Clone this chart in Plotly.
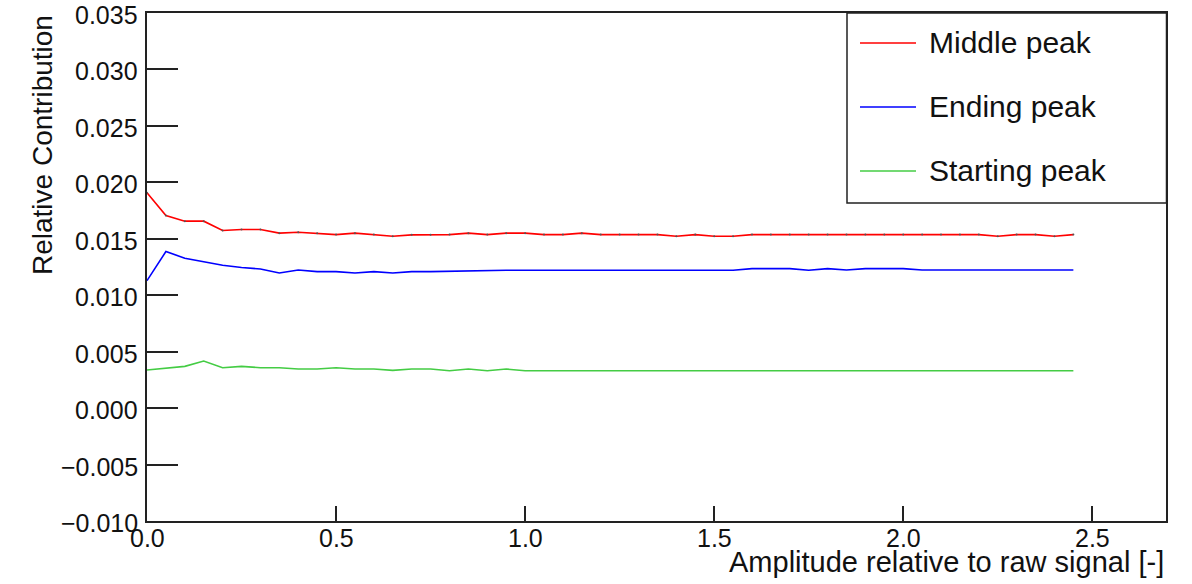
import plotly.graph_objects as go

# Amplitude scale factors applied to the raw signal
amplitude = [0.00, 0.05, 0.10, 0.15, 0.20, 0.25, 0.30, 0.35, 0.40, 0.45,
             0.50, 0.55, 0.60, 0.65, 0.70, 0.75, 0.80, 0.85, 0.90, 0.95,
             1.00, 1.05, 1.10, 1.15, 1.20, 1.25, 1.30, 1.35, 1.40, 1.45,
             1.50, 1.55, 1.60, 1.65, 1.70, 1.75, 1.80, 1.85, 1.90, 1.95,
             2.00, 2.05, 2.10, 2.15, 2.20, 2.25, 2.30, 2.35, 2.40, 2.45]

middle_peak = [0.01907, 0.01706, 0.01656, 0.01656, 0.01573, 0.01582, 0.01582, 0.01550, 0.01558, 0.01550,
               0.01537, 0.01550, 0.01537, 0.01523, 0.01535, 0.01535, 0.01537, 0.01550, 0.01537, 0.01550,
               0.01550, 0.01537, 0.01537, 0.01550, 0.01537, 0.01537, 0.01537, 0.01537, 0.01523, 0.01537,
               0.01523, 0.01523, 0.01537, 0.01537, 0.01537, 0.01537, 0.01537, 0.01537, 0.01537, 0.01537,
               0.01537, 0.01537, 0.01537, 0.01537, 0.01537, 0.01523, 0.01537, 0.01537, 0.01523, 0.01537]

ending_peak = [0.01129, 0.01387, 0.01328, 0.01298, 0.01266, 0.01245, 0.01233, 0.01197, 0.01224, 0.01209,
               0.01209, 0.01197, 0.01209, 0.01197, 0.01209, 0.01209, 0.01212, 0.01221, 0.01221, 0.01221,
               0.01221, 0.01221, 0.01221, 0.01221, 0.01221, 0.01221, 0.01221, 0.01221, 0.01221, 0.01221,
               0.01221, 0.01221, 0.01236, 0.01236, 0.01236, 0.01221, 0.01236, 0.01224, 0.01236, 0.01236,
               0.01236, 0.01224, 0.01224, 0.01224, 0.01224, 0.01224, 0.01224, 0.01224, 0.01224, 0.01224]

starting_peak = [0.00337, 0.00355, 0.00370, 0.00417, 0.00358, 0.00370, 0.00358, 0.00358, 0.00346, 0.00346,
                 0.00358, 0.00346, 0.00346, 0.00334, 0.00346, 0.00346, 0.00331, 0.00346, 0.00331, 0.00346,
                 0.00331, 0.00331, 0.00331, 0.00331, 0.00331, 0.00331, 0.00331, 0.00331, 0.00331, 0.00331,
                 0.00331, 0.00331, 0.00331, 0.00331, 0.00331, 0.00331, 0.00331, 0.00331, 0.00331, 0.00331,
                 0.00331, 0.00331, 0.00331, 0.00331, 0.00331, 0.00331, 0.00331, 0.00331, 0.00331, 0.00331]

series_names = ["Middle peak", "Ending peak", "Starting peak"]
series_colors = ["#ff0000", "#0000ff", "#44cc44"]

x_ticks = [0.0, 0.5, 1.0, 1.5, 2.0, 2.5]
x_tick_text = ["0.0", "0.5", "1.0", "1.5", "2.0", "2.5"]
y_ticks = [-0.010, -0.005, 0.000, 0.005, 0.010, 0.015, 0.020, 0.025, 0.030, 0.035]
y_tick_text = ["\u22120.010", "\u22120.005", "0.000", "0.005", "0.010",
               "0.015", "0.020", "0.025", "0.030", "0.035"]

x_title = "Amplitude relative to raw signal [-]"
y_title = "Relative Contribution"

# Canvas and plot-frame geometry (pixels)
W, H = 1192, 584
L, R, T, B = 147, 1166, 13, 521
PW, PH = R - L, B - T

FONT = "Liberation Sans, Arial, Helvetica, sans-serif"
TXT = "#111111"


def px_x(p):
    return (p - L) / PW


def px_y(p):
    return (B - p) / PH


fig = go.Figure()
for name, ys, col in zip(series_names, [middle_peak, ending_peak, starting_peak], series_colors):
    fig.add_trace(go.Scatter(
        x=amplitude, y=ys, name=name, mode="lines",
        line=dict(color=col, width=1.6), showlegend=False,
    ))

# small point markers on the middle-peak graph
fig.add_trace(go.Scatter(
    x=amplitude, y=middle_peak, mode="markers",
    marker=dict(color="#555555", size=2), showlegend=False, hoverinfo="skip",
))

axis_common = dict(
    showline=True, linecolor="#222222", linewidth=2, mirror=True,
    showgrid=False, zeroline=False, ticks="inside", tickcolor="#222222",
    tickwidth=1.5, showticklabels=False, automargin=False,
)

fig.update_xaxes(range=[0, 2.695], tickvals=x_ticks, ticklen=15, **axis_common)
fig.update_yaxes(range=[-0.010, 0.035], tickvals=y_ticks, ticklen=31, **axis_common)

annotations = []
# x tick labels, set tight under the axis
for xv, xt in zip(x_ticks, x_tick_text):
    annotations.append(dict(text=xt, xref="x", yref="paper", x=xv, y=px_y(538),
                            xanchor="center", yanchor="middle", showarrow=False,
                            borderpad=0, font=dict(family=FONT, size=25, color=TXT)))
# y tick labels, right-aligned next to the axis, sitting slightly below each tick
for yv, yt in zip(y_ticks, y_tick_text):
    annotations.append(dict(text=yt, xref="paper", yref="y", x=px_x(139), y=yv, yshift=-2,
                            xanchor="right", yanchor="middle", showarrow=False,
                            borderpad=0, font=dict(family=FONT, size=25, color=TXT)))

# Legend box drawn as a framed panel in the upper right
shapes = [dict(type="rect", xref="paper", yref="paper",
               x0=px_x(847), x1=px_x(1166.5), y0=px_y(203), y1=px_y(13),
               line=dict(color="#222222", width=1.5), fillcolor="white", layer="above")]
legend_rows = [43, 107, 171]
for name, col, yy in zip(series_names, series_colors, legend_rows):
    shapes.append(dict(type="line", xref="paper", yref="paper",
                       x0=px_x(860), x1=px_x(916), y0=px_y(yy), y1=px_y(yy),
                       line=dict(color=col, width=1.3), layer="above"))
    annotations.append(dict(text=name, xref="paper", yref="paper",
                            x=px_x(927), y=px_y(yy - 1), xanchor="left", yanchor="middle",
                            showarrow=False, font=dict(family=FONT, size=30, color=TXT)))

# Axis titles, aligned to the far ends of their axes
annotations.append(dict(text=x_title, xref="paper", yref="paper",
                        x=1.0, y=px_y(562), xanchor="right", yanchor="middle",
                        showarrow=False, font=dict(family=FONT, size=29, color=TXT)))
annotations.append(dict(text=y_title, xref="paper", yref="paper",
                        x=px_x(42), y=1.0, xanchor="center", yanchor="top", textangle=-90,
                        showarrow=False, font=dict(family=FONT, size=28, color=TXT)))

fig.update_layout(
    width=W, height=H, autosize=False,
    margin=dict(l=L, r=W - R, t=T, b=H - B, pad=0),
    paper_bgcolor="white", plot_bgcolor="white",
    shapes=shapes, annotations=annotations,
)

fig.write_html("out.html")
